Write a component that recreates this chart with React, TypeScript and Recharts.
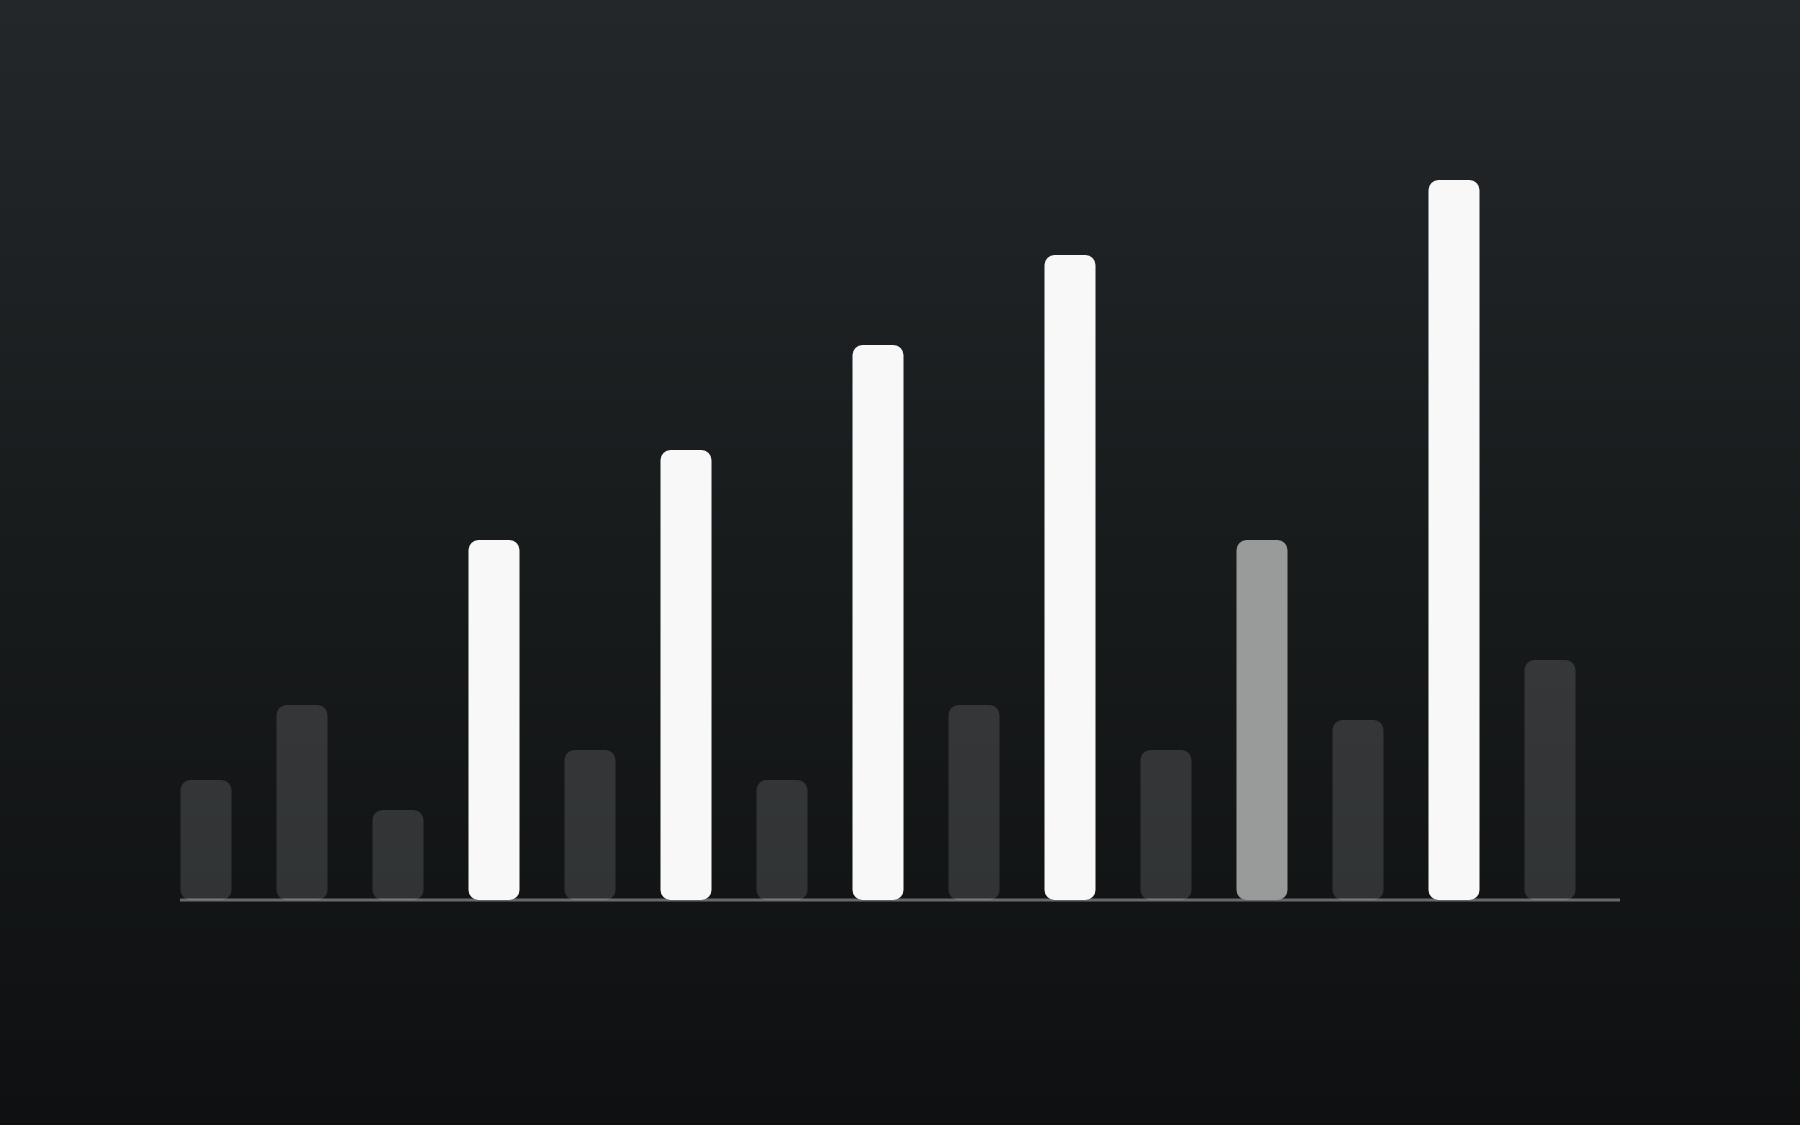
import { BarChart, Bar, XAxis, YAxis, Cell } from 'recharts';

const categories = ['1', '2', '3', '4', '5', '6', '7', '8', '9', '10', '11', '12', '13', '14', '15'];
const values = [4, 6.5, 3, 12, 5, 15, 4, 18.5, 6.5, 21.5, 5, 12, 6, 24, 8];
// 0 = dim, 1 = highlighted, 2 = half highlighted
const levels = [0, 0, 0, 1, 0, 1, 0, 1, 0, 1, 0, 2, 0, 1, 0];

const data = categories.map((name, i) => ({ name, value: values[i] }));

const fills = ['rgba(255,255,255,0.135)', '#f8f8f8', '#999a9a'];

export default function App() {
    return (
        <div
            style={{
                position: 'absolute',
                top: 0,
                left: 0,
                width: 1800,
                height: 1125,
                background: 'linear-gradient(180deg, #23272a 0%, #181b1c 50%, #0e1012 100%)',
            }}
        >
            <BarChart width={1800} height={1125} data={data} margin={{ top: 180, right: 180, bottom: 195, left: 180 }}>
                <XAxis
                    dataKey="name"
                    height={30}
                    tick={false}
                    tickLine={false}
                    padding={{ left: -22.5, right: 22.5 }}
                    axisLine={{ stroke: '#66686a', strokeWidth: 3 }}
                    zIndex={100}
                />
                <YAxis hide domain={[0, 24]} />
                <Bar dataKey="value" barSize={51} radius={10} isAnimationActive={false} zIndex={300}>
                    {data.map((d, i) => (
                        <Cell key={d.name} fill={fills[levels[i]]} />
                    ))}
                </Bar>
            </BarChart>
        </div>
    );
}
